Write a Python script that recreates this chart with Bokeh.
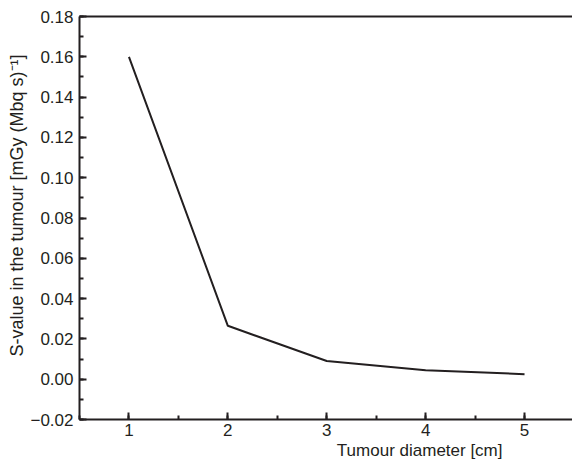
from bokeh.plotting import figure
from bokeh.models import (Range1d, SingleIntervalTicker, CustomJSTickFormatter,
                          Title, LinearAxis)
from bokeh.embed import file_html
from bokeh.resources import INLINE

# Data
diameter_cm = [1, 2, 3, 4, 5]
s_value = [0.160, 0.0265, 0.0090, 0.0045, 0.0025]

x_label = "Tumour diameter [cm]"
y_label = "S-value in the tumour [mGy (Mbq s)\u207b\u00b9]"

FONT = "Liberation Sans"
INK = "#231f20"

p = figure(width=572, height=464, output_backend="svg", toolbar_location=None,
           x_range=Range1d(0.5, 5.485), y_range=Range1d(-0.02, 0.18),
           min_border_left=79, min_border_right=0, min_border_top=16,
           min_border_bottom=45)
p.outline_line_color = None
p.grid.visible = False
p.background_fill_color = "white"
p.border_fill_color = "white"

p.line(diameter_cm, s_value, line_color=INK, line_width=2)

p.xaxis.ticker = SingleIntervalTicker(interval=1, num_minor_ticks=2)
p.yaxis.ticker = SingleIntervalTicker(interval=0.02, num_minor_ticks=2)
p.yaxis.formatter = CustomJSTickFormatter(
    code="return (tick < -1e-9 ? '\u2212' : '') + Math.abs(tick).toFixed(2);")
p.xaxis.formatter = CustomJSTickFormatter(code="return tick.toFixed(0);")

for ax in (p.xaxis[0], p.yaxis[0]):
    ax.axis_line_color = INK
    ax.axis_line_width = 2
    ax.major_tick_line_color = INK
    ax.major_tick_line_width = 2
    ax.minor_tick_line_color = INK
    ax.minor_tick_line_width = 2
    ax.major_tick_in = 7
    ax.major_tick_out = 0
    ax.minor_tick_in = 4
    ax.minor_tick_out = 0
    ax.major_label_text_font = FONT
    ax.major_label_text_font_size = "17px"
    ax.major_label_text_color = INK
p.xaxis.major_label_standoff = 4
p.yaxis.major_label_standoff = 6

top = LinearAxis(ticker=[], axis_line_color=INK, axis_line_width=2,
                 major_label_text_font_size="0px", major_tick_in=0, major_tick_out=0,
                 minor_tick_in=0, minor_tick_out=0)
p.add_layout(top, "above")

p.add_layout(Title(text=x_label, align="right", offset=70, standoff=0,
                   text_font=FONT, text_font_size="17px", text_font_style="normal",
                   text_color=INK), "below")
p.add_layout(Title(text=y_label, align="left", offset=63, standoff=2,
                   text_font=FONT, text_font_size="18px", text_font_style="normal",
                   text_color=INK), "left")

open("out.html", "w").write(file_html(p, INLINE))
